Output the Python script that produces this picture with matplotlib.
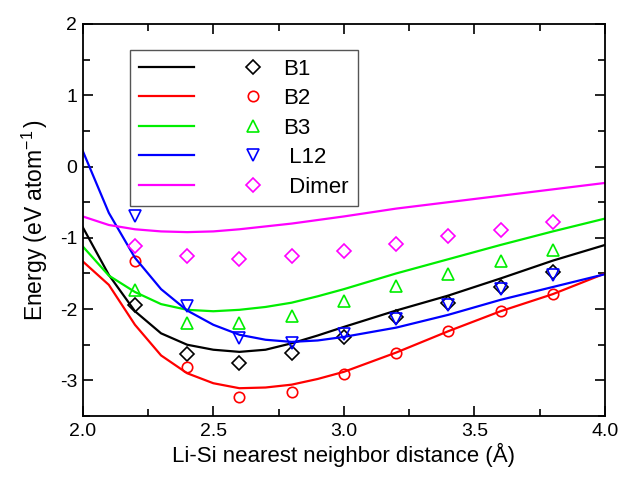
import matplotlib
matplotlib.use("Agg")
import matplotlib.pyplot as plt
from matplotlib.ticker import MultipleLocator

plt.rcParams["font.family"] = ["Liberation Sans", "DejaVu Sans"]
plt.rcParams["mathtext.fontset"] = "custom"
plt.rcParams["mathtext.rm"] = "Liberation Sans"
plt.rcParams["mathtext.it"] = "Liberation Sans:italic"
plt.rcParams["axes.unicode_minus"] = False

# fitted curves
x_fit = [2.0, 2.1, 2.2, 2.3, 2.4, 2.5, 2.6, 2.7, 2.8, 2.9, 3.0, 3.2, 3.4, 3.6, 3.8, 4.0]
b1_fit = [-0.85, -1.52, -2.03, -2.34, -2.50, -2.57, -2.60, -2.57, -2.48, -2.37, -2.25,
          -2.02, -1.81, -1.57, -1.32, -1.10]
b2_fit = [-1.33, -1.66, -2.22, -2.65, -2.90, -3.04, -3.11, -3.10, -3.06, -2.98, -2.88,
          -2.61, -2.31, -2.03, -1.79, -1.50]
b3_fit = [-1.12, -1.53, -1.76, -1.93, -2.01, -2.03, -2.01, -1.97, -1.91, -1.82, -1.72,
          -1.50, -1.30, -1.10, -0.91, -0.73]
l12_fit = [0.22, -0.65, -1.28, -1.72, -2.02, -2.22, -2.36, -2.43, -2.46, -2.44, -2.39,
           -2.26, -2.08, -1.87, -1.69, -1.51]
dimer_fit = [-0.70, -0.82, -0.88, -0.91, -0.92, -0.91, -0.88, -0.84, -0.80, -0.75, -0.70,
             -0.59, -0.50, -0.41, -0.32, -0.23]

# calculated points
x_pts = [2.2, 2.4, 2.6, 2.8, 3.0, 3.2, 3.4, 3.6, 3.8]
b1_pts = [-1.94, -2.63, -2.75, -2.61, -2.39, -2.11, -1.91, -1.69, -1.48]
b2_pts = [-1.32, -2.81, -3.23, -3.17, -2.91, -2.61, -2.31, -2.03, -1.79]
b3_pts = [-1.73, -2.20, -2.20, -2.09, -1.89, -1.68, -1.51, -1.32, -1.17]
l12_pts = [-0.70, -1.96, -2.41, -2.47, -2.35, -2.14, -1.94, -1.72, -1.52]
dimer_pts = [-1.11, -1.25, -1.30, -1.25, -1.18, -1.09, -0.98, -0.89, -0.78]

names = ["B1", "B2", "B3", " L12", " Dimer"]
colors = ["black", "#ff0000", "#00ee00", "#0000ff", "#ff00ff"]
markers = ["D", "o", "^", "v", "D"]
msizes = [7.5, 7.5, 9, 9, 7.5]
fits = [b1_fit, b2_fit, b3_fit, l12_fit, dimer_fit]
pts = [b1_pts, b2_pts, b3_pts, l12_pts, dimer_pts]

fig = plt.figure(figsize=(6.22, 4.8), dpi=100)
ax = fig.add_axes([0.133, 0.1333, 0.8397, 0.8167])

line_handles = []
marker_handles = []
for fit, p, c, m, ms in zip(fits, pts, colors, markers, msizes):
    ln, = ax.plot(x_fit, fit, color=c, lw=1.6)
    mk, = ax.plot(x_pts, p, ls="none", marker=m, ms=ms, mfc="none", mec=c, mew=1.2)
    line_handles.append(ln)
    marker_handles.append(mk)

ax.set_xlim(2.0, 4.0)
ax.set_ylim(-3.5, 2.0)
ax.xaxis.set_major_locator(MultipleLocator(0.5))
ax.xaxis.set_minor_locator(MultipleLocator(0.25))
ax.yaxis.set_major_locator(MultipleLocator(1))
ax.yaxis.set_minor_locator(MultipleLocator(0.5))
ax.xaxis.set_major_formatter(plt.FormatStrFormatter("%.1f"))
ax.tick_params(which="both", direction="in", top=True, right=True, width=1.2,
               labelsize=14)
ax.tick_params(which="major", length=7, pad=5)
ax.tick_params(which="minor", length=5)
ax.tick_params(axis="y", which="major", pad=4)
for s in ax.spines.values():
    s.set_linewidth(1.3)

ax.set_xlabel("Li-Si nearest neighbor distance (Å)", fontsize=16, labelpad=2)
ax.set_ylabel(r"Energy (eV atom$^{-1}\,$)", fontsize=16.5, labelpad=7)

leg = ax.legend(line_handles + marker_handles, [""] * 5 + names, ncol=2,
                loc="upper left", bbox_to_anchor=(0.0906, 0.934), borderaxespad=0,
                fontsize=16, handlelength=2.5, handletextpad=0.1,
                columnspacing=1.3, labelspacing=0.38, borderpad=0.4,
                fancybox=False, framealpha=1)
leg.get_frame().set_edgecolor("#555555")
leg.get_frame().set_linewidth(1.0)

fig.savefig("out.png", dpi=100)
